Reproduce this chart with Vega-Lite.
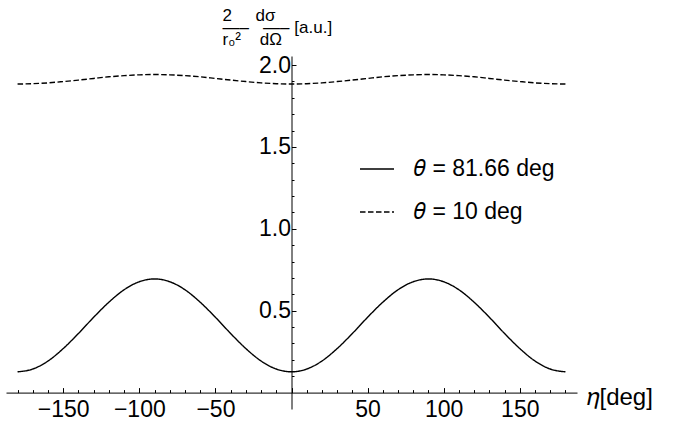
{
  "$schema": "https://vega.github.io/schema/vega-lite/v6.json",
  "width": 571,
  "height": 353,
  "autosize": {"type": "none"},
  "padding": {"left": 6, "top": 56, "right": 97, "bottom": 20},
  "config": {"view": {"stroke": null}, "font": "Liberation Sans"},
  "data": {"values": [
    {"eta": -180, "value": 0.127, "theta": "𝜃 = 81.66 deg"},
    {"eta": -170, "value": 0.144, "theta": "𝜃 = 81.66 deg"},
    {"eta": -160, "value": 0.193, "theta": "𝜃 = 81.66 deg"},
    {"eta": -150, "value": 0.269, "theta": "𝜃 = 81.66 deg"},
    {"eta": -140, "value": 0.361, "theta": "𝜃 = 81.66 deg"},
    {"eta": -130, "value": 0.460, "theta": "𝜃 = 81.66 deg"},
    {"eta": -120, "value": 0.552, "theta": "𝜃 = 81.66 deg"},
    {"eta": -110, "value": 0.628, "theta": "𝜃 = 81.66 deg"},
    {"eta": -100, "value": 0.677, "theta": "𝜃 = 81.66 deg"},
    {"eta": -90, "value": 0.694, "theta": "𝜃 = 81.66 deg"},
    {"eta": -80, "value": 0.677, "theta": "𝜃 = 81.66 deg"},
    {"eta": -70, "value": 0.628, "theta": "𝜃 = 81.66 deg"},
    {"eta": -60, "value": 0.552, "theta": "𝜃 = 81.66 deg"},
    {"eta": -50, "value": 0.460, "theta": "𝜃 = 81.66 deg"},
    {"eta": -40, "value": 0.361, "theta": "𝜃 = 81.66 deg"},
    {"eta": -30, "value": 0.269, "theta": "𝜃 = 81.66 deg"},
    {"eta": -20, "value": 0.193, "theta": "𝜃 = 81.66 deg"},
    {"eta": -10, "value": 0.144, "theta": "𝜃 = 81.66 deg"},
    {"eta": 0, "value": 0.127, "theta": "𝜃 = 81.66 deg"},
    {"eta": 10, "value": 0.144, "theta": "𝜃 = 81.66 deg"},
    {"eta": 20, "value": 0.193, "theta": "𝜃 = 81.66 deg"},
    {"eta": 30, "value": 0.269, "theta": "𝜃 = 81.66 deg"},
    {"eta": 40, "value": 0.361, "theta": "𝜃 = 81.66 deg"},
    {"eta": 50, "value": 0.460, "theta": "𝜃 = 81.66 deg"},
    {"eta": 60, "value": 0.552, "theta": "𝜃 = 81.66 deg"},
    {"eta": 70, "value": 0.628, "theta": "𝜃 = 81.66 deg"},
    {"eta": 80, "value": 0.677, "theta": "𝜃 = 81.66 deg"},
    {"eta": 90, "value": 0.694, "theta": "𝜃 = 81.66 deg"},
    {"eta": 100, "value": 0.677, "theta": "𝜃 = 81.66 deg"},
    {"eta": 110, "value": 0.628, "theta": "𝜃 = 81.66 deg"},
    {"eta": 120, "value": 0.552, "theta": "𝜃 = 81.66 deg"},
    {"eta": 130, "value": 0.460, "theta": "𝜃 = 81.66 deg"},
    {"eta": 140, "value": 0.361, "theta": "𝜃 = 81.66 deg"},
    {"eta": 150, "value": 0.269, "theta": "𝜃 = 81.66 deg"},
    {"eta": 160, "value": 0.193, "theta": "𝜃 = 81.66 deg"},
    {"eta": 170, "value": 0.144, "theta": "𝜃 = 81.66 deg"},
    {"eta": 180, "value": 0.127, "theta": "𝜃 = 81.66 deg"},
    {"eta": -180, "value": 1.884, "theta": "𝜃 = 10 deg"},
    {"eta": -170, "value": 1.886, "theta": "𝜃 = 10 deg"},
    {"eta": -160, "value": 1.891, "theta": "𝜃 = 10 deg"},
    {"eta": -150, "value": 1.899, "theta": "𝜃 = 10 deg"},
    {"eta": -140, "value": 1.908, "theta": "𝜃 = 10 deg"},
    {"eta": -130, "value": 1.918, "theta": "𝜃 = 10 deg"},
    {"eta": -120, "value": 1.928, "theta": "𝜃 = 10 deg"},
    {"eta": -110, "value": 1.935, "theta": "𝜃 = 10 deg"},
    {"eta": -100, "value": 1.940, "theta": "𝜃 = 10 deg"},
    {"eta": -90, "value": 1.942, "theta": "𝜃 = 10 deg"},
    {"eta": -80, "value": 1.940, "theta": "𝜃 = 10 deg"},
    {"eta": -70, "value": 1.935, "theta": "𝜃 = 10 deg"},
    {"eta": -60, "value": 1.928, "theta": "𝜃 = 10 deg"},
    {"eta": -50, "value": 1.918, "theta": "𝜃 = 10 deg"},
    {"eta": -40, "value": 1.908, "theta": "𝜃 = 10 deg"},
    {"eta": -30, "value": 1.899, "theta": "𝜃 = 10 deg"},
    {"eta": -20, "value": 1.891, "theta": "𝜃 = 10 deg"},
    {"eta": -10, "value": 1.886, "theta": "𝜃 = 10 deg"},
    {"eta": 0, "value": 1.884, "theta": "𝜃 = 10 deg"},
    {"eta": 10, "value": 1.886, "theta": "𝜃 = 10 deg"},
    {"eta": 20, "value": 1.891, "theta": "𝜃 = 10 deg"},
    {"eta": 30, "value": 1.899, "theta": "𝜃 = 10 deg"},
    {"eta": 40, "value": 1.908, "theta": "𝜃 = 10 deg"},
    {"eta": 50, "value": 1.918, "theta": "𝜃 = 10 deg"},
    {"eta": 60, "value": 1.928, "theta": "𝜃 = 10 deg"},
    {"eta": 70, "value": 1.935, "theta": "𝜃 = 10 deg"},
    {"eta": 80, "value": 1.940, "theta": "𝜃 = 10 deg"},
    {"eta": 90, "value": 1.942, "theta": "𝜃 = 10 deg"},
    {"eta": 100, "value": 1.940, "theta": "𝜃 = 10 deg"},
    {"eta": 110, "value": 1.935, "theta": "𝜃 = 10 deg"},
    {"eta": 120, "value": 1.928, "theta": "𝜃 = 10 deg"},
    {"eta": 130, "value": 1.918, "theta": "𝜃 = 10 deg"},
    {"eta": 140, "value": 1.908, "theta": "𝜃 = 10 deg"},
    {"eta": 150, "value": 1.899, "theta": "𝜃 = 10 deg"},
    {"eta": 160, "value": 1.891, "theta": "𝜃 = 10 deg"},
    {"eta": 170, "value": 1.886, "theta": "𝜃 = 10 deg"},
    {"eta": 180, "value": 1.884, "theta": "𝜃 = 10 deg"}
  ]},
  "mark": {"type": "line", "interpolate": "monotone", "strokeWidth": 1.4, "color": "black"},
  "encoding": {
    "x": {
      "field": "eta", "type": "quantitative",
      "scale": {"domain": [-187.6, 187.6], "nice": false, "zero": false},
      "axis": {
        "orient": "bottom", "offset": -16.4, "grid": false,
        "values": [-180,-170,-160,-150,-140,-130,-120,-110,-100,-90,-80,-70,-60,-50,-40,-30,-20,-10,0,10,20,30,40,50,60,70,80,90,100,110,120,130,140,150,160,170,180],
        "tickSize": {"condition": {"test": "round(datum.value) % 50 === 0", "value": -5}, "value": -3},
        "tickColor": "black", "tickWidth": 1, "domainColor": "black", "domainWidth": 1,
        "format": "d",
        "labelExpr": "datum.value !== 0 && round(datum.value) % 50 === 0 ? datum.label : ''",
        "labelFontSize": 23, "labelColor": "black", "labelPadding": 11, "labelFlush": false, "labelOverlap": false,
        "title": "𝜂[deg]", "titleX": 580, "titleY": 5, "titleAlign": "left", "titleBaseline": "middle",
        "titleFontSize": 24, "titleFontWeight": "normal", "titleColor": "black"
      }
    },
    "y": {
      "field": "value", "type": "quantitative",
      "scale": {"domain": [-0.1, 2.055], "nice": false, "zero": false},
      "axis": {
        "orient": "left", "offset": -285.5, "grid": false,
        "values": [0.1,0.2,0.3,0.4,0.5,0.6,0.7,0.8,0.9,1.0,1.1,1.2,1.3,1.4,1.5,1.6,1.7,1.8,1.9,2.0],
        "tickSize": {"condition": {"test": "round(datum.value*10) % 5 === 0", "value": -4.5}, "value": -2.5},
        "tickColor": "black", "tickWidth": 1, "domainColor": "black", "domainWidth": 1,
        "format": ".1f",
        "labelExpr": "round(datum.value*10) % 5 === 0 ? datum.label : ''",
        "labelFontSize": 23, "labelColor": "black", "labelPadding": 5.5, "labelFlush": false, "labelOverlap": false,
        "title": ["\u00a0\u00a02\u00a0\u00a0\u00a0\u00a0\u00a0dσ", "—–\u00a0\u00a0\u00a0—–\u00a0[a.u.]", "\u00a0r₀²\u00a0\u00a0\u00a0\u00a0dΩ"],
        "titleAngle": 0, "titleAlign": "left", "titleBaseline": "alphabetic",
        "titleX": -69.5, "titleY": -36, "titleLineHeight": 12,
        "titleFontSize": 17, "titleFontWeight": "normal", "titleColor": "black"
      }
    },
    "strokeDash": {
      "field": "theta", "type": "nominal",
      "scale": {"domain": ["𝜃 = 81.66 deg", "𝜃 = 10 deg"], "range": [[1, 0], [5.5, 2.5]]},
      "legend": {
        "orient": "none", "legendX": 353, "legendY": 95, "title": null, "padding": 0,
        "symbolType": "stroke", "symbolSize": 1156, "symbolStrokeWidth": 1.4, "symbolStrokeColor": "black",
        "labelFontSize": 23, "labelColor": "black", "labelOffset": 19, "rowPadding": 13, "labelLimit": 300
      }
    }
  }
}
